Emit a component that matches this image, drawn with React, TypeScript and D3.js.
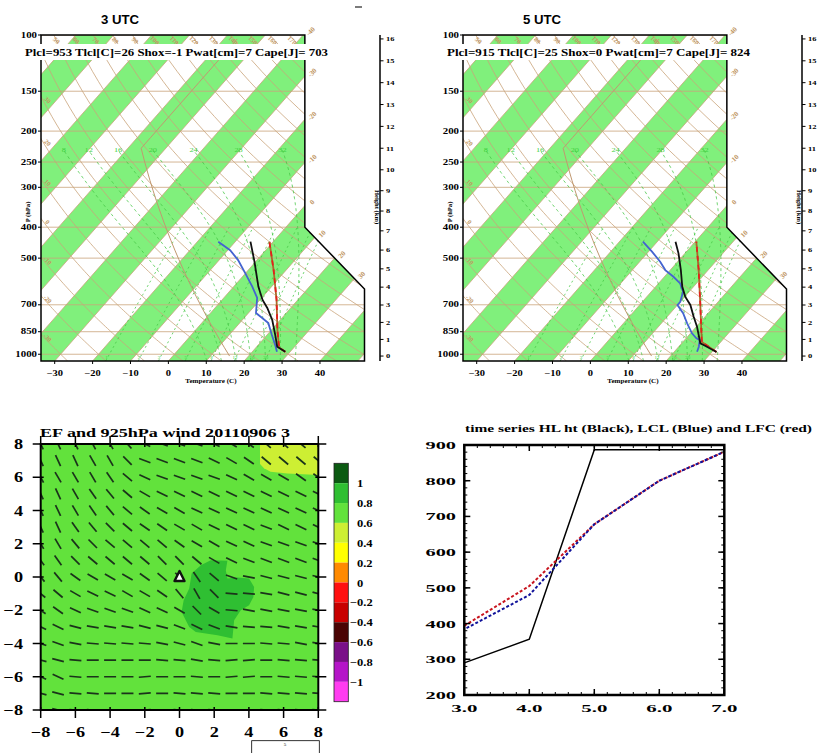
import React from "react";
import * as d3 from "d3";

const W = 819;
const H = 753;
const SERIF = "'Liberation Serif','Times New Roman',serif";
const SANS = "'Liberation Sans',Arial,sans-serif";

// ---------------- Sounding data (pressure hPa / temperature °C) ----------------
const temp3P = [982, 947, 871, 781, 716, 676, 614, 513, 444];
const temp3T = [28.7, 25.4, 22.2, 17.9, 13.8, 10.7, 6.5, -0.3, -6.0];
const dew3P = [982, 936, 871, 799, 770, 743, 666, 614, 557, 507, 472, 444];
const dew3T = [26.5, 24.5, 21.3, 17.6, 14.8, 12.0, 8.8, 4.9, -0.1, -5.0, -9.4, -14.5];
const parcel3P = [982, 953, 840, 676, 545, 444];
const parcel3T = [28.7, 26.1, 21.6, 14.4, 6.7, -1.0];

const temp5P = [984, 942, 924, 820, 763, 701, 660, 614, 545, 483, 444];
const temp5T = [31.2, 26.9, 24.9, 20.2, 17.0, 13.4, 10.1, 7.0, 2.8, -1.7, -5.2];
const dew5P = [982, 947, 903, 891, 860, 800, 744, 701, 685, 637, 600, 572, 545, 513, 477, 444];
const dew5T = [26.0, 25.3, 24.0, 22.7, 20.4, 16.8, 13.4, 10.0, 10.0, 8.4, 5.7, 2.4, -1.3, -4.6, -9.1, -13.8];
const parcel5P = [984, 915, 840, 692, 545, 444];
const parcel5T = [31.2, 25.0, 22.1, 15.6, 7.5, 0.3];

const header3 = "Plcl=953 Tlcl[C]=26 Shox=-1 Pwat[cm]=7 Cape[J]= 703";
const header5 = "Plcl=915 Tlcl[C]=25 Shox=0 Pwat[cm]=7 Cape[J]= 824";

// ---------------- Skew-T background definitions ----------------
const pressureTicks = [1000, 850, 700, 500, 400, 300, 250, 200, 150, 100];
const tempTicks = [-30, -20, -10, 0, 10, 20, 30, 40];
const heightTicksKm = [0, 1, 2, 3, 4, 5, 6, 7, 8, 9, 10, 11, 12, 13, 14, 15, 16];
const isothermValues = [-100, -90, -80, -70, -60, -50, -40, -30, -20, -10, 0, 10, 20, 30, 40, 50];
const bandStarts = [-100, -80, -60, -40, -20, 0, 20, 40];
const isothermLabelValues = [-40, -30, -20, -10, 0, 10, 20, 30];
const dryThetas = [-30, -20, -10, 0, 10, 20, 30, 40, 50, 60, 70, 80, 90, 100, 110, 120, 130, 140, 150, 160, 170];
const moistThetaW = [8, 12, 16, 20, 24, 28, 32];
const mixingRatios = [1, 2, 3, 5, 8, 12, 16, 20];

// ---------------- EF field and 925 hPa wind ----------------
const efTicks = [-8, -6, -4, -2, 0, 2, 4, 6, 8];
const efLevelLabels = ["1", "0.8", "0.6", "0.4", "0.2", "0", "\u22120.2", "\u22120.4", "\u22120.6", "\u22120.8", "\u22121"];
const efColors = ["#0b5a12", "#2fbf32", "#62e23c", "#cdef33", "#ffff00", "#ff8a00", "#ff1010", "#c80000", "#4a0404", "#7a1088", "#b515c8", "#ff3cf0"];
const efBackgroundIndex = 2;
const patchHighX = [1.8, 2.76, 2.67, 2.76, 3.34, 4.01, 4.3, 4.26, 4.01, 3.53, 3.15, 3.05, 2.19, 0.94, 0.56, 0.12, 0.24, 0.56, 0.7, 1.23];
const patchHighY = [1.01, 0.97, 0.41, -0.09, -0.03, -0.09, -0.6, -1.2, -1.7, -2.0, -2.6, -3.7, -3.51, -3.31, -3.01, -2.1, -1.4, -0.69, 0.21, 0.71];
const patchLowX = [4.64, 4.64, 4.87, 5.25, 6.21, 8.2, 8.2, 4.64];
const patchLowY = [8.2, 6.8, 6.54, 6.33, 6.23, 6.12, 8.2, 8.2];
const windX = [-8, -7, -6, -5, -4, -3, -2, -1, 0, 1, 2, 3, 4, 5, 6, 7, 8];
const windY = [8, 7, 6, 5, 4, 3, 2, 1, 0, -1, -2, -3, -4, -5, -6, -7, -8];
// segment tilt in degrees below the horizontal, rows follow windY, columns follow windX
const windTilt = [
  [65, 65, 65, 62, 60, 48, 25, 20, 20, 20, 25, 30, 35, 40, 40, 40, 40],
  [65, 65, 65, 60, 60, 45, 20, 20, 20, 20, 25, 30, 35, 40, 40, 40, 40],
  [62, 60, 60, 60, 55, 40, 25, 20, 20, 20, 20, 25, 30, 30, 30, 35, 35],
  [65, 65, 60, 55, 50, 40, 30, 25, 25, 25, 25, 25, 25, 25, 25, 25, 25],
  [65, 65, 60, 55, 50, 40, 35, 30, 30, 25, 25, 25, 25, 25, 25, 25, 25],
  [65, 65, 55, 50, 45, 40, 35, 35, 30, 30, 25, 25, 25, 20, 25, 25, 25],
  [60, 60, 50, 45, 40, 40, 40, 40, 35, 30, 30, 25, 25, 20, 20, 20, 20],
  [55, 55, 45, 40, 40, 40, 40, 45, 45, 40, 30, 25, 20, 20, 20, 20, 20],
  [50, 50, 35, 30, 30, 30, 35, 40, 45, 55, 40, 20, 10, 15, 15, 15, 15],
  [40, 40, 30, 25, 25, 30, 30, 35, 50, 60, 45, 5, 5, 10, 15, 15, 15],
  [35, 35, 25, 20, 20, 20, 25, 25, 30, 45, 30, 5, 10, 10, 10, 10, 10],
  [25, 25, 15, 10, 10, 10, 15, 15, 20, 25, 20, 10, 5, 5, 10, 10, 10],
  [20, 20, 10, 5, 5, 5, 5, 10, 15, 20, 10, 0, 0, 5, 5, 10, 10],
  [15, 15, 5, 0, 0, 0, 0, 5, 5, 10, 5, -5, -5, 0, 5, 5, 5],
  [25, 25, 5, 0, 0, 0, -5, 0, 0, 5, 0, -5, -5, 0, 5, 5, 5],
  [15, 15, 5, 5, 0, 0, -5, 0, 5, 5, 5, 0, 0, 5, 5, 5, 5],
  [15, 15, 5, 5, 0, 0, -5, 0, 5, 5, 5, 0, 0, 5, 5, 5, 5],
];

// ---------------- Time series ----------------
const tsHours = [3, 4, 5, 6, 7];
const hlHeight = [290, 356, 887, 887, 887];
const lclHeight = [384, 480, 678, 800, 881];
const lfcHeight = [394, 505, 678, 800, 881];
const tsXTicks = [3, 4, 5, 6, 7];
const tsYTicks = [200, 300, 400, 500, 600, 700, 800, 900];

// ---------------- skew-T geometry & thermodynamics ----------------
const XMIN = -19.0, XMAX = 27.1, YMIN = -0.9346217, YMAX = 44.061;
const skewY = (p: number) => 132.182 - 44.061 * Math.log10(p);
const skewX = (t: number, p: number) => 0.54 * t + 0.90692 * skewY(p);
const OUT_X = [XMIN, XMAX, XMAX, 18.6, 18.6, XMIN];
const OUT_Y = [YMIN, YMIN, 9.0, 17.53, YMAX, YMAX];
function xRight(yu: number) {
  if (yu <= 9) return XMAX;
  if (yu <= 17.53) return XMAX - ((yu - 9) * (XMAX - 18.6)) / (17.53 - 9);
  return 18.6;
}
function insideSkew(xu: number, yu: number) {
  return yu >= YMIN - 1e-6 && yu <= YMAX + 1e-6 && xu >= XMIN && xu <= xRight(yu);
}
const esat = (tc: number) => 6.112 * Math.exp((17.67 * tc) / (tc + 243.5));
const rsat = (tc: number, p: number) => {
  const e = esat(tc);
  return (0.622 * e) / (p - e);
};
function lapse(tk: number, p: number) {
  const Rd = 287.04, cp = 1005.7, Lv = 2.501e6, eps = 0.622;
  const rs = rsat(tk - 273.15, p);
  return (Rd * tk + Lv * rs) / (p * (cp + (Lv * Lv * rs * eps) / (Rd * tk * tk)));
}
function moistAdiabat(t1000: number, pTop: number): [number, number][] {
  const step = (tk: number, p: number, h: number) => {
    const k1 = lapse(tk, p);
    const k2 = lapse(tk + h * k1, p + h);
    return tk + (h * (k1 + k2)) / 2;
  };
  const lower: [number, number][] = [];
  let tk = t1000 + 273.15;
  let p = 1000;
  while (p < 1050) {
    tk = step(tk, p, 5);
    p += 5;
    lower.push([tk - 273.15, p]);
  }
  const upper: [number, number][] = [[t1000, 1000]];
  tk = t1000 + 273.15;
  p = 1000;
  while (p > pTop) {
    tk = step(tk, p, -5);
    p -= 5;
    upper.push([tk - 273.15, p]);
  }
  return lower.reverse().concat(upper);
}
function dewFromMix(wgkg: number, p: number) {
  const w = wgkg / 1000;
  const e = (w * p) / (0.622 + w);
  const l = Math.log(e / 6.112);
  return (243.5 * l) / (17.67 - l);
}
function stdPressure(zkm: number) {
  const z = zkm * 1000;
  if (z <= 11000) return 1013.25 * Math.pow(1 - 2.25577e-5 * z, 5.25588);
  return 226.32 * Math.exp(-(z - 11000) / 6341.6);
}
const stdTemp = (zkm: number) => (zkm <= 11 ? 15 - 6.5 * zkm : -56.5);
const dryT = (thetaC: number, p: number) => (thetaC + 273.15) * Math.pow(p / 1000, 0.28571) - 273.15;

function ST(props: any) {
  const { x, y, size, sx = 1, anchor = "start", fill = "#000", weight = "bold", family = SERIF, rotate = 0, children } = props;
  return (
    <text
      transform={`translate(${x},${y}) rotate(${rotate}) scale(${sx},1)`}
      fontSize={size}
      textAnchor={anchor}
      fill={fill}
      fontWeight={weight}
      fontFamily={family}
    >
      {children}
    </text>
  );
}

const BAND = "#80f07c";
const TAN = "#c9a37a";
const TAN_LABEL = "#c0955f";
const MOIST = "#48c848";

function SkewT(props: any) {
  const { x0, title, header, tP, tT, dP, dT, pP, pT } = props;
  const sx = d3.scaleLinear().domain([XMIN, XMAX]).range([x0, x0 + 323.5]);
  const sy = d3.scaleLinear().domain([YMIN, YMAX]).range([361, 35]);
  const pt = (t: number, p: number): [number, number] => [sx(skewX(t, p)), sy(skewY(p))];
  const line = d3.line();
  const clip = `skewclip-${x0}`;
  const outlinePts = OUT_X.map((x, i) => [sx(x), sy(OUT_Y[i])]);
  const pSamples = d3.range(1050, 99, -10);

  const dryLabels: any[] = [];
  dryThetas.forEach((th) => {
    for (let p = 100; p <= 1050; p += 1) {
      const t = dryT(th, p);
      const xu = skewX(t, p), yu = skewY(p);
      if (insideSkew(xu, yu)) {
        if (p <= 100.5) dryLabels.push({ th, x: sx(xu) + 1, y: sy(yu) + 7 });
        else dryLabels.push({ th, x: sx(XMIN) + 5, y: sy(yu) + 5 });
        break;
      }
    }
  });

  const isoLabels: any[] = [];
  isothermLabelValues.forEach((t) => {
    for (let yu = YMAX; yu >= YMIN; yu -= 0.02) {
      const xu = 0.54 * t + 0.90692 * yu;
      if (insideSkew(xu, yu)) {
        isoLabels.push({ t, x: sx(xu) + 9, y: sy(yu) - 2 });
        break;
      }
    }
  });

  const axisX = x0 + 339;
  const stdZ = d3.range(0, 16.01, 0.5);

  return (
    <g>
      <defs>
        <clipPath id={clip}>
          <polygon points={outlinePts.map((p) => p.join(",")).join(" ")} />
        </clipPath>
      </defs>
      <g clipPath={`url(#${clip})`}>
        <polygon points={outlinePts.map((p) => p.join(",")).join(" ")} fill="#ffffff" />
        {bandStarts.map((t) => (
          <polygon
            key={`b${t}`}
            points={[pt(t, 1050), pt(t, 100), pt(t + 10, 100), pt(t + 10, 1050)].map((p) => p.join(",")).join(" ")}
            fill={BAND}
          />
        ))}
        {isothermValues.map((t) => (
          <path key={`it${t}`} d={line([pt(t, 1050), pt(t, 100)]) || ""} stroke={TAN} strokeWidth={0.8} fill="none" />
        ))}
        {pressureTicks.map((p) => (
          <path key={`ib${p}`} d={line([[sx(XMIN), sy(skewY(p))], [sx(XMAX), sy(skewY(p))]]) || ""} stroke={TAN} strokeWidth={0.8} />
        ))}
        {dryThetas.map((th) => (
          <path key={`da${th}`} d={line(pSamples.map((p) => pt(dryT(th, p), p))) || ""} stroke={TAN} strokeWidth={0.8} fill="none" />
        ))}
        {mixingRatios.map((w) => (
          <path
            key={`mr${w}`}
            d={line(d3.range(1050, 399, -25).map((p) => pt(dewFromMix(w, p), p))) || ""}
            stroke={MOIST}
            strokeWidth={0.8}
            strokeDasharray="2 3"
            fill="none"
          />
        ))}
        {moistThetaW.map((tw) => (
          <path
            key={`ma${tw}`}
            d={line(moistAdiabat(tw, 230).map(([t, p]) => pt(t, p))) || ""}
            stroke={MOIST}
            strokeWidth={0.8}
            strokeDasharray="3 3"
            fill="none"
          />
        ))}
        <path
          d={line(stdZ.map((z) => pt(stdTemp(z), stdPressure(z)))) || ""}
          stroke="#c09870"
          strokeWidth={1}
          fill="none"
        />
        {moistThetaW.map((tw) => {
          const path = moistAdiabat(tw, 230);
          const [t, p] = path[path.length - 1];
          const [px, py] = pt(t, p);
          return (
            <ST key={`ml${tw}`} x={px} y={py + 2} size={7} sx={1.2} anchor="middle" fill="#3fd03f" weight="normal">
              {tw}
            </ST>
          );
        })}
        {mixingRatios.map((w) => {
          const [px] = pt(dewFromMix(w, 1040), 1040);
          return (
            <ST key={`mrl${w}`} x={px} y={359} size={5} anchor="middle" fill="#3fd03f" weight="normal">
              {w}
            </ST>
          );
        })}
        {dryLabels.map((d) => (
          <ST key={`dl${d.th}`} x={d.x} y={d.y} size={6.5} anchor="middle" fill={TAN_LABEL} rotate={45}>
            {d.th}
          </ST>
        ))}
        {/* soundings */}
        <path d={line(pP.map((p: number, i: number) => pt(pT[i], p))) || ""} stroke="#a86a2a" strokeWidth={1.8} fill="none" />
        <path
          d={line(pP.map((p: number, i: number) => pt(pT[i], p))) || ""}
          stroke="#e4201c"
          strokeWidth={1.8}
          strokeDasharray="5 4"
          fill="none"
        />
        <path d={line(dP.map((p: number, i: number) => pt(dT[i], p))) || ""} stroke="#4464d0" strokeWidth={1.8} fill="none" />
        <path d={line(tP.map((p: number, i: number) => pt(tT[i], p))) || ""} stroke="#111" strokeWidth={1.8} fill="none" />
      </g>
      {isoLabels.map((d) => (
        <ST key={`il${d.t}`} x={d.x} y={d.y} size={7} anchor="middle" fill={TAN_LABEL} rotate={-45}>
          {d.t}
        </ST>
      ))}
      <polygon points={outlinePts.map((p) => p.join(",")).join(" ")} fill="none" stroke="#000" strokeWidth={1.5} />

      {/* header */}
      <rect x={x0 - 16} y={44} width={305} height={16} fill="#fff" />
      <text x={x0 - 16} y={56} fontSize={10.5} fontFamily={SERIF} fontWeight="bold" textLength={303} lengthAdjust="spacingAndGlyphs">
        {header}
      </text>
      <ST x={x0 + 79} y={24} size={12} sx={1.1} anchor="middle" family={SANS}>
        {title}
      </ST>

      {/* pressure axis */}
      {pressureTicks.map((p) => (
        <g key={`pt${p}`}>
          <line x1={x0 - 3} x2={x0} y1={sy(skewY(p))} y2={sy(skewY(p))} stroke="#000" strokeWidth={1} />
          <ST x={x0 - 4} y={sy(skewY(p)) + 2.5} size={7.5} sx={1.45} anchor="end">
            {p}
          </ST>
        </g>
      ))}
      <ST x={x0 - 11} y={212} size={5.5} sx={1.2} anchor="middle" rotate={-90}>
        P (hPa)
      </ST>

      {/* temperature axis */}
      {tempTicks.map((t) => (
        <g key={`tt${t}`}>
          <line x1={pt(t, 1050)[0]} x2={pt(t, 1050)[0]} y1={361} y2={364} stroke="#000" strokeWidth={1} />
          <ST x={pt(t, 1050)[0]} y={376} size={7.5} sx={1.4} anchor="middle">
            {t < 0 ? `\u2212${-t}` : t}
          </ST>
        </g>
      ))}
      <ST x={x0 + 170} y={383} size={5.5} sx={1.3} anchor="middle">
        Temperature (C)
      </ST>

      {/* height axis */}
      <line x1={axisX} x2={axisX} y1={35} y2={361} stroke="#000" strokeWidth={1.5} />
      {heightTicksKm.map((z) => {
        const yy = sy(skewY(stdPressure(z)));
        return (
          <g key={`hz${z}`}>
            <line x1={axisX} x2={axisX + 3.5} y1={yy} y2={yy} stroke="#000" strokeWidth={1} />
            <ST x={axisX + 6} y={yy + 2.3} size={6.5} sx={1.3}>
              {z}
            </ST>
          </g>
        );
      })}
      <ST x={axisX - 5} y={207} size={5.5} sx={1.2} anchor="middle" rotate={90}>
        Height (km)
      </ST>
    </g>
  );
}

function EFPanel() {
  const x = d3.scaleLinear().domain([-8, 8]).range([40.7, 318.3]);
  const y = d3.scaleLinear().domain([-8, 8]).range([710, 444]);
  const poly = (xs: number[], ys: number[]) => xs.map((v, i) => `${x(v)},${y(ys[i])}`).join(" ");
  const L = 12;
  const cbX = 334, cbW = 14.3, cbTop = 463.3, cbH = 238.4;
  const box = cbH / efColors.length;
  return (
    <g>
      <defs>
        <clipPath id="efclip">
          <rect x={x(-8)} y={y(8)} width={x(8) - x(-8)} height={y(-8) - y(8)} />
        </clipPath>
      </defs>
      <g clipPath="url(#efclip)">
        <rect x={x(-8)} y={y(8)} width={x(8) - x(-8)} height={y(-8) - y(8)} fill={efColors[efBackgroundIndex]} />
        <polygon points={poly(patchLowX, patchLowY)} fill={efColors[3]} />
        <polygon points={poly(patchHighX, patchHighY)} fill={efColors[1]} />
        {windY.map((wy, i) =>
          windX.map((wx, j) => {
            const a = (windTilt[i][j] * Math.PI) / 180;
            const dx = (Math.cos(a) * L) / 2, dy = (Math.sin(a) * L) / 2;
            const cx = x(wx), cy = y(wy);
            return (
              <line key={`w${i}-${j}`} x1={cx - dx} y1={cy - dy} x2={cx + dx} y2={cy + dy} stroke="#1b331b" strokeWidth={1.7} />
            );
          })
        )}
      </g>
      <polygon
        points={`${x(0)},${y(0) - 6} ${x(0) - 5},${y(0) + 4} ${x(0) + 5},${y(0) + 4}`}
        fill="#fff"
        stroke="#111"
        strokeWidth={2.4}
        strokeLinejoin="round"
      />
      <rect x={x(-8)} y={y(8)} width={x(8) - x(-8)} height={y(-8) - y(8)} fill="none" stroke="#000" strokeWidth={2} />
      {efTicks.map((t) => (
        <g key={`eft${t}`}>
          <line x1={x(t)} x2={x(t)} y1={y(8) - 8} y2={y(8) + 3} stroke="#000" strokeWidth={1.5} />
          <line x1={x(t)} x2={x(t)} y1={y(-8) - 3} y2={y(-8) + 8} stroke="#000" strokeWidth={1.5} />
          <line x1={x(-8) - 8} x2={x(-8) + 3} y1={y(t)} y2={y(t)} stroke="#000" strokeWidth={1.5} />
          <line x1={x(8) - 3} x2={x(8) + 8} y1={y(t)} y2={y(t)} stroke="#000" strokeWidth={1.5} />
          <ST x={x(t)} y={737} size={14} sx={1.3} anchor="middle">
            {t < 0 ? `\u2212${-t}` : t}
          </ST>
          <ST x={23} y={y(t) + 5} size={14} sx={1.3} anchor="end">
            {t < 0 ? `\u2212${-t}` : t}
          </ST>
        </g>
      ))}
      <text x={40} y={437} fontSize={13.5} fontFamily={SERIF} fontWeight="bold" textLength={250} lengthAdjust="spacingAndGlyphs">
        EF and 925hPa wind 20110906 3
      </text>
      {efColors.map((c, i) => (
        <rect key={`cb${i}`} x={cbX} y={cbTop + i * box} width={cbW} height={box} fill={c} />
      ))}
      <rect x={cbX} y={cbTop} width={cbW} height={cbH} fill="none" stroke="#222" strokeWidth={0.8} />
      {efLevelLabels.map((s, i) => (
        <ST key={`cl${i}`} x={s.startsWith("\u2212") ? 350 : 357} y={cbTop + (i + 1) * box + 4} size={10} sx={1.25}>
          {s}
        </ST>
      ))}
      <rect x={251.7} y={740.7} width={67.6} height={20} fill="#fff" stroke="#000" strokeWidth={0.8} />
      <ST x={285} y={746} size={5} anchor="middle" weight="normal">
        5
      </ST>
    </g>
  );
}

function TimeSeries() {
  const x = d3.scaleLinear().domain([3, 7]).range([464.3, 724.3]);
  const y = d3.scaleLinear().domain([200, 900]).range([695, 445]);
  const line = d3.line<number>().x((_, i) => x(tsHours[i])).y((v) => y(v));
  const minorX = d3.range(3, 7.001, 0.2);
  const minorY = d3.range(200, 900.1, 20);
  return (
    <g>
      <rect x={x(3)} y={y(900)} width={x(7) - x(3)} height={y(200) - y(900)} fill="#fff" />
      <path d={line(hlHeight) || ""} stroke="#000" strokeWidth={1.5} fill="none" />
      <path d={line(lfcHeight) || ""} stroke="#c8141e" strokeWidth={2} strokeDasharray="3 2" fill="none" />
      <path d={line(lclHeight) || ""} stroke="#10129a" strokeWidth={2} strokeDasharray="3 2" strokeDashoffset={2.5} fill="none" />
      {minorX.map((t, i) => (
        <g key={`mx${i}`}>
          <line x1={x(t)} x2={x(t)} y1={y(200)} y2={y(200) - 3} stroke="#000" strokeWidth={1} />
          <line x1={x(t)} x2={x(t)} y1={y(900)} y2={y(900) + 3} stroke="#000" strokeWidth={1} />
        </g>
      ))}
      {minorY.map((v, i) => (
        <g key={`my${i}`}>
          <line x1={x(3)} x2={x(3) + 3} y1={y(v)} y2={y(v)} stroke="#000" strokeWidth={1} />
          <line x1={x(7)} x2={x(7) - 3} y1={y(v)} y2={y(v)} stroke="#000" strokeWidth={1} />
        </g>
      ))}
      {tsXTicks.map((t) => (
        <g key={`tx${t}`}>
          <line x1={x(t)} x2={x(t)} y1={y(200)} y2={y(200) - 6} stroke="#000" strokeWidth={1.5} />
          <line x1={x(t)} x2={x(t)} y1={y(900)} y2={y(900) + 6} stroke="#000" strokeWidth={1.5} />
          <ST x={x(t)} y={712} size={11} sx={1.9} anchor="middle">
            {t.toFixed(1)}
          </ST>
        </g>
      ))}
      {tsYTicks.map((v) => (
        <g key={`ty${v}`}>
          <line x1={x(3)} x2={x(3) + 6} y1={y(v)} y2={y(v)} stroke="#000" strokeWidth={1.5} />
          <line x1={x(7)} x2={x(7) - 6} y1={y(v)} y2={y(v)} stroke="#000" strokeWidth={1.5} />
          <ST x={456} y={y(v) + 4} size={11} sx={1.85} anchor="end">
            {v}
          </ST>
        </g>
      ))}
      <rect x={x(3)} y={y(900)} width={x(7) - x(3)} height={y(200) - y(900)} fill="none" stroke="#000" strokeWidth={2.5} />
      <text x={465} y={432} fontSize={11} fontFamily={SERIF} fontWeight="bold" textLength={347} lengthAdjust="spacingAndGlyphs">
        time series HL ht (Black), LCL (Blue) and LFC (red)
      </text>
    </g>
  );
}

export default function App() {
  return (
    <svg width={W} height={H} viewBox={`0 0 ${W} ${H}`} style={{ position: "absolute", left: 0, top: 0 }}>
      <rect width={W} height={H} fill="#fff" />
      <line x1={355} x2={362} y1={7} y2={7} stroke="#222" strokeWidth={1.2} />
      <SkewT x0={41} title="3 UTC" header={header3} tP={temp3P} tT={temp3T} dP={dew3P} dT={dew3T} pP={parcel3P} pT={parcel3T} />
      <SkewT x0={463} title="5 UTC" header={header5} tP={temp5P} tT={temp5T} dP={dew5P} dT={dew5T} pP={parcel5P} pT={parcel5T} />
      <EFPanel />
      <TimeSeries />
    </svg>
  );
}
